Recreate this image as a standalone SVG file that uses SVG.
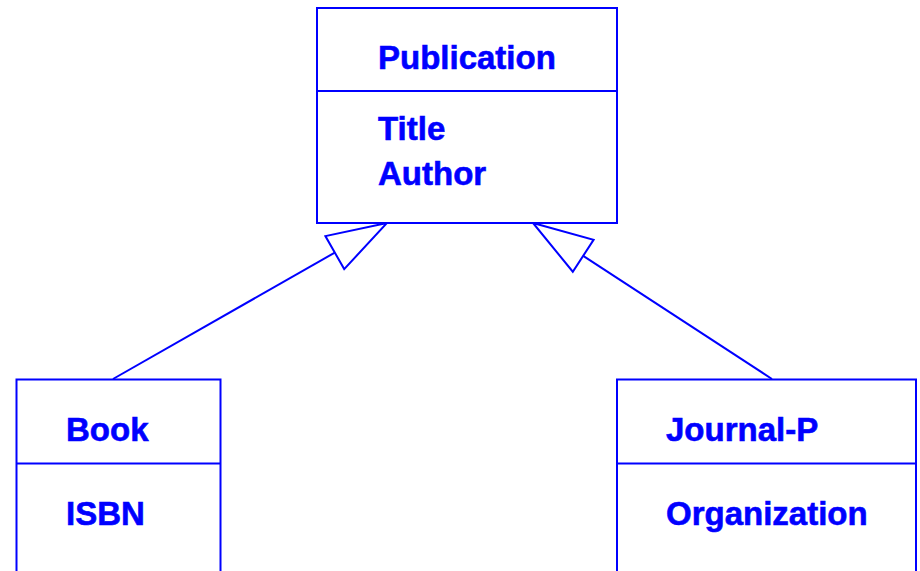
<svg xmlns="http://www.w3.org/2000/svg" width="920" height="571" viewBox="0 0 920 571">
<style>
.box{fill:#fff;stroke:#0000ff;stroke-width:2}
.ln{fill:none;stroke:#0000ff;stroke-width:2}
.tri{fill:#fff;stroke:#0000ff;stroke-width:2;stroke-linejoin:miter}
.t{font-family:"Liberation Sans",Arial,Helvetica,sans-serif;font-weight:bold;font-size:33px;fill:#0000ff;stroke:#0000ff;stroke-width:0.6}
</style>
<rect width="920" height="571" fill="#fff"/>
<g id="connectors">
<line class="ln" x1="113" y1="379" x2="334.8" y2="252.6"/>
<polygon class="tri" points="387,223 325.4,236.1 344.2,269.1"/>
<line class="ln" x1="772" y1="379" x2="583.2" y2="255.8"/>
<polygon class="tri" points="533,223 593.6,239.9 572.8,271.7"/>
</g>
<g id="publication">
<rect class="box" x="317" y="8" width="300" height="215"/>
<line class="ln" x1="317" y1="91" x2="617" y2="91"/>
<text class="t" x="378" y="69">Publication</text>
<text class="t" x="378" y="140">Title</text>
<text class="t" x="378" y="185">Author</text>
</g>
<g id="book">
<rect class="box" x="16.5" y="379.5" width="204" height="200"/>
<line class="ln" x1="16.5" y1="463.5" x2="220.5" y2="463.5"/>
<text class="t" x="66" y="441">Book</text>
<text class="t" x="66" y="525">ISBN</text>
</g>
<g id="journal">
<rect class="box" x="617" y="379.5" width="299" height="200"/>
<line class="ln" x1="617" y1="463.5" x2="916" y2="463.5"/>
<text class="t" x="666" y="441">Journal-P</text>
<text class="t" x="666" y="525">Organization</text>
</g>
</svg>
